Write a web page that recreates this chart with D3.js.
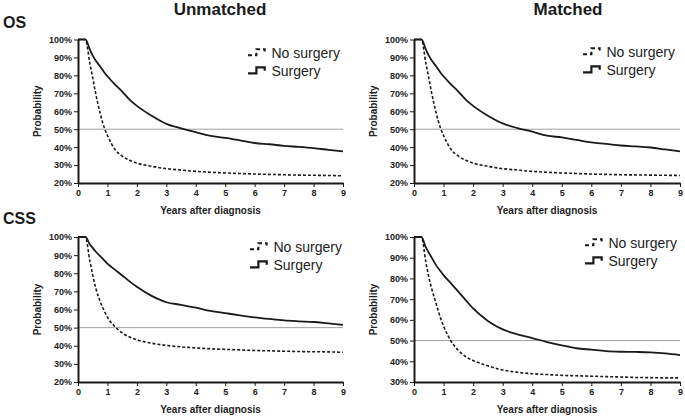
<!DOCTYPE html>
<html>
<head>
<meta charset="utf-8">
<script src="https://cdn.jsdelivr.net/npm/d3@7"></script>
<style>
  html, body { margin: 0; padding: 0; background: #fff; }
  svg { display: block; font-family: Arial, "Liberation Sans", sans-serif; }
</style>
</head>
<body>
<svg id="chart" width="685" height="419"></svg>
<script>
// ---------- data ----------
const years = [0, 0.25, 0.4, 0.5, 0.6, 0.75, 0.9, 1, 1.25, 1.5, 1.75, 2, 2.5, 3, 3.5, 4, 4.5, 5, 5.5, 6, 6.5, 7, 7.5, 8, 8.5, 9];

const osUnmatchedSurgery   = [100, 100, 94.5, 91, 88.3, 85, 81.5, 79.5, 75, 71, 66.5, 63, 57.5, 53, 50.5, 48.3, 46.3, 45.2, 43.8, 42.3, 41.6, 40.7, 40.1, 39.4, 38.5, 37.6];
const osUnmatchedNoSurgery = [100, 100, 87, 78.5, 70, 59, 50.5, 46.5, 38.8, 35, 32.7, 31.1, 29.3, 28, 27.2, 26.5, 26, 25.6, 25.3, 25, 24.8, 24.6, 24.4, 24.3, 24.2, 24];

const osMatchedSurgery     = [100, 100, 94.5, 91, 88.3, 85, 81.5, 79.5, 75, 71, 66.5, 63, 57.5, 53.2, 50.6, 48.6, 46.4, 45.4, 44, 42.6, 41.8, 40.9, 40.4, 39.8, 38.7, 37.6];
const osMatchedNoSurgery   = [100, 100, 87, 78.5, 70, 59, 50.5, 46.5, 38.8, 35, 32.7, 31.1, 29.3, 28, 27.2, 26.5, 26, 25.6, 25.3, 25, 24.8, 24.6, 24.5, 24.4, 24.3, 24.2];

const cssUnmatchedSurgery   = [100, 100, 96, 94, 92, 89.5, 87, 85.3, 82, 78.8, 75.5, 72.5, 67.5, 64, 62.6, 61, 59.2, 58, 56.8, 55.7, 54.8, 54, 53.5, 53.1, 52.3, 51.5];
const cssUnmatchedNoSurgery = [100, 100, 87, 79, 72, 64.5, 59, 55.8, 50.6, 47.1, 44.8, 43.3, 41.4, 40.2, 39.4, 38.8, 38.3, 38, 37.7, 37.4, 37.2, 37, 36.8, 36.7, 36.6, 36.4];

const cssMatchedSurgery     = [100, 100, 95, 92.5, 90, 86.3, 83.5, 81.6, 77.6, 73.6, 69.5, 65.5, 59.5, 55.4, 53, 51.2, 49.3, 47.7, 46.3, 45.6, 44.9, 44.6, 44.5, 44.3, 43.8, 43];
const cssMatchedNoSurgery   = [100, 100, 88, 80.7, 75, 67.8, 60.8, 57, 49.8, 45.3, 42.2, 40.4, 37.8, 35.8, 34.7, 34, 33.6, 33.2, 33, 32.8, 32.6, 32.4, 32.2, 32.1, 32, 32];

const xTicks = [0, 1, 2, 3, 4, 5, 6, 7, 8, 9];
const yTicks20 = [20, 30, 40, 50, 60, 70, 80, 90, 100];
const yTicks30 = [30, 40, 50, 60, 70, 80, 90, 100];

const columnTitles = ["Unmatched", "Matched"];
const rowTitles = ["OS", "CSS"];
const seriesNames = ["No surgery", "Surgery"];
const xTitle = "Years after diagnosis";
const yTitle = "Probability";
const referenceLevel = 50;

// ---------- layout ----------
const panels = [
  { x0: 78,  x1: 343, y0: 39.5, y1: 183, ymin: 20, yticks: yTicks20, surg: osUnmatchedSurgery,  nosurg: osUnmatchedNoSurgery,  lx: 248, ly: 58 },
  { x0: 414, x1: 680, y0: 39.5, y1: 183, ymin: 20, yticks: yTicks20, surg: osMatchedSurgery,    nosurg: osMatchedNoSurgery,    lx: 583, ly: 57 },
  { x0: 78,  x1: 343, y0: 237,  y1: 382, ymin: 20, yticks: yTicks20, surg: cssUnmatchedSurgery, nosurg: cssUnmatchedNoSurgery, lx: 250, ly: 252 },
  { x0: 414, x1: 680, y0: 237,  y1: 382, ymin: 30, yticks: yTicks30, surg: cssMatchedSurgery,   nosurg: cssMatchedNoSurgery,   lx: 585, ly: 248 }
];

const svg = d3.select("#chart");
const ink = "#1a1a1a";

// titles
svg.append("text").attr("x", 220).attr("y", 15).attr("text-anchor", "middle")
  .attr("font-size", 17).attr("font-weight", "bold").attr("fill", ink).text(columnTitles[0]);
svg.append("text").attr("x", 568).attr("y", 15).attr("text-anchor", "middle")
  .attr("font-size", 17).attr("font-weight", "bold").attr("fill", ink).text(columnTitles[1]);
svg.append("text").attr("x", 3).attr("y", 27.5)
  .attr("font-size", 16).attr("font-weight", "bold").attr("fill", ink).text(rowTitles[0]);
svg.append("text").attr("x", 3).attr("y", 223.5)
  .attr("font-size", 16).attr("font-weight", "bold").attr("fill", ink).text(rowTitles[1]);

panels.forEach(p => {
  const x = d3.scaleLinear().domain([0, 9]).range([p.x0, p.x1]);
  const y = d3.scaleLinear().domain([p.ymin, 100]).range([p.y1, p.y0]);
  const g = svg.append("g");

  // reference line at 50%
  g.append("line")
    .attr("x1", x(0)).attr("x2", x(9))
    .attr("y1", y(referenceLevel)).attr("y2", y(referenceLevel))
    .attr("stroke", "#a0a0a0").attr("stroke-width", 1);

  // axes
  const yAxis = d3.axisLeft(y).tickValues(p.yticks).tickFormat(d => d + "%").tickSize(4).tickPadding(2).tickSizeOuter(0);
  const xAxis = d3.axisBottom(x).tickValues(xTicks).tickFormat(d3.format("d")).tickSize(4).tickPadding(3).tickSizeOuter(0);

  const ga = g.append("g").attr("transform", `translate(${p.x0},0)`).call(yAxis);
  const gb = g.append("g").attr("transform", `translate(0,${p.y1})`).call(xAxis);
  [ga, gb].forEach(a => {
    a.select(".domain").attr("stroke", ink).attr("stroke-width", 2);
    a.selectAll(".tick line").attr("stroke", ink).attr("stroke-width", 1);
    a.selectAll(".tick text").attr("font-size", 9).attr("font-weight", "bold")
      .attr("fill", "#222").attr("font-family", "Arial, 'Liberation Sans', sans-serif");
  });

  // axis titles
  g.append("text").attr("x", (p.x0 + p.x1) / 2).attr("y", p.y1 + 31)
    .attr("text-anchor", "middle").attr("font-size", 10).attr("font-weight", "bold")
    .attr("fill", "#222").text(xTitle);
  g.append("text")
    .attr("transform", `translate(${p.x0 - 37},${(p.y0 + p.y1) / 2}) rotate(-90)`)
    .attr("text-anchor", "middle").attr("font-size", 10).attr("font-weight", "bold")
    .attr("fill", "#222").text(yTitle);

  // curves
  const line = d3.line().x((d, i) => x(years[i])).y(d => y(d)).curve(d3.curveMonotoneX);
  g.append("path").datum(p.nosurg).attr("d", line)
    .attr("fill", "none").attr("stroke", ink).attr("stroke-width", 1.6)
    .attr("stroke-dasharray", "3,2");
  g.append("path").datum(p.surg).attr("d", line)
    .attr("fill", "none").attr("stroke", ink).attr("stroke-width", 1.8);

  // legend
  const lg = g.append("g");
  const sym = (by) => `M${p.lx},${by - 2.7} H${p.lx + 8.4} V${by - 8.7} H${p.lx + 16.7} V${by - 5.3}`;
  lg.append("path").attr("d", sym(p.ly)).attr("fill", "none").attr("stroke", ink)
    .attr("stroke-width", 2).attr("stroke-dasharray", "4,3");
  lg.append("text").attr("x", p.lx + 23.5).attr("y", p.ly).attr("font-size", 14)
    .attr("fill", "#222").text(seriesNames[0]);
  lg.append("path").attr("d", sym(p.ly + 18)).attr("fill", "none").attr("stroke", ink)
    .attr("stroke-width", 2.2);
  lg.append("text").attr("x", p.lx + 23.5).attr("y", p.ly + 18).attr("font-size", 14)
    .attr("fill", "#222").text(seriesNames[1]);
});
</script>
</body>
</html>
